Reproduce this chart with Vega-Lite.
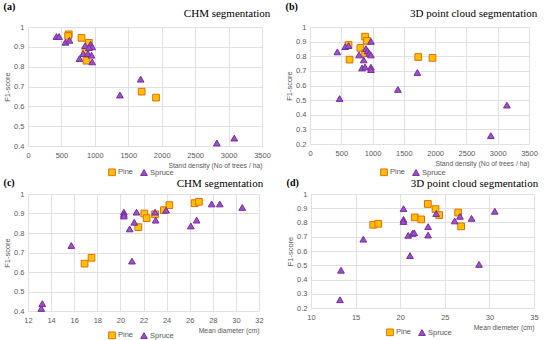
{
  "$schema": "https://vega.github.io/schema/vega-lite/v6.json",
  "background": "white",
  "padding": {"left": 3, "top": 2, "right": 2, "bottom": 0},
  "config": {
    "view": {"stroke": null},
    "font": "Liberation Sans",
    "axis": {"grid": true, "gridColor": "#d9d9d9", "gridWidth": 0.8, "domain": false, "ticks": false, "labelFontSize": 7.5, "labelColor": "#595959", "titleFontSize": 6.8, "titleFontWeight": "normal", "titleColor": "#595959"},
    "axisX": {"titleAnchor": "end", "titlePadding": 4, "labelPadding": 5, "labelFlush": false},
    "axisY": {"titlePadding": 2, "labelPadding": 4, "titleFontSize": 7.5},
    "title": {"font": "Liberation Serif", "fontWeight": "normal", "fontSize": 11, "color": "#000000"},
    "legend": {"orient": "none", "direction": "horizontal", "labelFontSize": 7.5, "labelColor": "#595959", "symbolSize": 45, "columnPadding": 4, "labelOffset": 2, "symbolStrokeWidth": 1, "padding": 0}
  },
  "datasets": {
    "a": [
      {"sp": "Pine", "x": 610, "f1": 0.963}, {"sp": "Pine", "x": 600, "f1": 0.955}, {"sp": "Pine", "x": 800, "f1": 0.945}, {"sp": "Pine", "x": 910, "f1": 0.92}, {"sp": "Pine", "x": 860, "f1": 0.88}, {"sp": "Pine", "x": 875, "f1": 0.83}, {"sp": "Pine", "x": 1700, "f1": 0.674}, {"sp": "Pine", "x": 1915, "f1": 0.644},
      {"sp": "Spruce", "x": 425, "f1": 0.952}, {"sp": "Spruce", "x": 465, "f1": 0.952}, {"sp": "Spruce", "x": 560, "f1": 0.923}, {"sp": "Spruce", "x": 620, "f1": 0.933}, {"sp": "Spruce", "x": 770, "f1": 0.841}, {"sp": "Spruce", "x": 825, "f1": 0.866}, {"sp": "Spruce", "x": 855, "f1": 0.906}, {"sp": "Spruce", "x": 895, "f1": 0.866}, {"sp": "Spruce", "x": 935, "f1": 0.913}, {"sp": "Spruce", "x": 960, "f1": 0.9}, {"sp": "Spruce", "x": 950, "f1": 0.858}, {"sp": "Spruce", "x": 960, "f1": 0.824}, {"sp": "Spruce", "x": 910, "f1": 0.896}, {"sp": "Spruce", "x": 1375, "f1": 0.657}, {"sp": "Spruce", "x": 1685, "f1": 0.737}, {"sp": "Spruce", "x": 2825, "f1": 0.415}, {"sp": "Spruce", "x": 3085, "f1": 0.44}
    ],
    "b": [
      {"sp": "Pine", "x": 880, "f1": 0.934}, {"sp": "Pine", "x": 910, "f1": 0.905}, {"sp": "Pine", "x": 805, "f1": 0.857}, {"sp": "Pine", "x": 616, "f1": 0.877}, {"sp": "Pine", "x": 880, "f1": 0.82}, {"sp": "Pine", "x": 632, "f1": 0.777}, {"sp": "Pine", "x": 1730, "f1": 0.795}, {"sp": "Pine", "x": 1958, "f1": 0.789},
      {"sp": "Spruce", "x": 437, "f1": 0.83}, {"sp": "Spruce", "x": 474, "f1": 0.511}, {"sp": "Spruce", "x": 563, "f1": 0.866}, {"sp": "Spruce", "x": 616, "f1": 0.873}, {"sp": "Spruce", "x": 784, "f1": 0.809}, {"sp": "Spruce", "x": 832, "f1": 0.72}, {"sp": "Spruce", "x": 858, "f1": 0.775}, {"sp": "Spruce", "x": 879, "f1": 0.727}, {"sp": "Spruce", "x": 895, "f1": 0.852}, {"sp": "Spruce", "x": 921, "f1": 0.836}, {"sp": "Spruce", "x": 947, "f1": 0.82}, {"sp": "Spruce", "x": 974, "f1": 0.902}, {"sp": "Spruce", "x": 974, "f1": 0.809}, {"sp": "Spruce", "x": 974, "f1": 0.725}, {"sp": "Spruce", "x": 974, "f1": 0.709}, {"sp": "Spruce", "x": 1405, "f1": 0.573}, {"sp": "Spruce", "x": 1716, "f1": 0.689}, {"sp": "Spruce", "x": 2890, "f1": 0.257}, {"sp": "Spruce", "x": 3147, "f1": 0.466}
    ],
    "c": [
      {"sp": "Pine", "x": 16.9, "f1": 0.643}, {"sp": "Pine", "x": 17.5, "f1": 0.673}, {"sp": "Pine", "x": 21.55, "f1": 0.83}, {"sp": "Pine", "x": 22.07, "f1": 0.9}, {"sp": "Pine", "x": 22.27, "f1": 0.876}, {"sp": "Pine", "x": 23.0, "f1": 0.896}, {"sp": "Pine", "x": 23.77, "f1": 0.917}, {"sp": "Pine", "x": 24.24, "f1": 0.943}, {"sp": "Pine", "x": 26.43, "f1": 0.953}, {"sp": "Pine", "x": 26.8, "f1": 0.96},
      {"sp": "Spruce", "x": 13.15, "f1": 0.413}, {"sp": "Spruce", "x": 13.24, "f1": 0.438}, {"sp": "Spruce", "x": 15.75, "f1": 0.736}, {"sp": "Spruce", "x": 20.3, "f1": 0.907}, {"sp": "Spruce", "x": 20.3, "f1": 0.896}, {"sp": "Spruce", "x": 20.3, "f1": 0.887}, {"sp": "Spruce", "x": 20.8, "f1": 0.821}, {"sp": "Spruce", "x": 21.0, "f1": 0.656}, {"sp": "Spruce", "x": 21.2, "f1": 0.855}, {"sp": "Spruce", "x": 21.4, "f1": 0.907}, {"sp": "Spruce", "x": 23.0, "f1": 0.907}, {"sp": "Spruce", "x": 23.05, "f1": 0.866}, {"sp": "Spruce", "x": 23.95, "f1": 0.917}, {"sp": "Spruce", "x": 26.1, "f1": 0.836}, {"sp": "Spruce", "x": 26.6, "f1": 0.866}, {"sp": "Spruce", "x": 27.9, "f1": 0.949}, {"sp": "Spruce", "x": 28.6, "f1": 0.949}, {"sp": "Spruce", "x": 30.55, "f1": 0.931}
    ],
    "d": [
      {"sp": "Pine", "x": 16.98, "f1": 0.784}, {"sp": "Pine", "x": 17.54, "f1": 0.791}, {"sp": "Pine", "x": 21.64, "f1": 0.836}, {"sp": "Pine", "x": 22.35, "f1": 0.822}, {"sp": "Pine", "x": 23.1, "f1": 0.93}, {"sp": "Pine", "x": 23.96, "f1": 0.894}, {"sp": "Pine", "x": 24.37, "f1": 0.852}, {"sp": "Pine", "x": 26.5, "f1": 0.87}, {"sp": "Pine", "x": 26.83, "f1": 0.773},
      {"sp": "Spruce", "x": 13.25, "f1": 0.258}, {"sp": "Spruce", "x": 13.36, "f1": 0.465}, {"sp": "Spruce", "x": 15.86, "f1": 0.683}, {"sp": "Spruce", "x": 20.37, "f1": 0.897}, {"sp": "Spruce", "x": 20.37, "f1": 0.822}, {"sp": "Spruce", "x": 20.37, "f1": 0.807}, {"sp": "Spruce", "x": 20.9, "f1": 0.71}, {"sp": "Spruce", "x": 21.1, "f1": 0.568}, {"sp": "Spruce", "x": 21.38, "f1": 0.724}, {"sp": "Spruce", "x": 21.57, "f1": 0.728}, {"sp": "Spruce", "x": 23.13, "f1": 0.771}, {"sp": "Spruce", "x": 23.13, "f1": 0.712}, {"sp": "Spruce", "x": 24.03, "f1": 0.863}, {"sp": "Spruce", "x": 26.1, "f1": 0.811}, {"sp": "Spruce", "x": 26.7, "f1": 0.843}, {"sp": "Spruce", "x": 28.0, "f1": 0.829}, {"sp": "Spruce", "x": 28.84, "f1": 0.506}, {"sp": "Spruce", "x": 30.6, "f1": 0.879}
    ]
  },
  "spacing": 0,
  "resolve": {"scale": {"color": "independent", "shape": "independent", "stroke": "independent"}, "legend": {"color": "independent", "shape": "independent", "stroke": "independent"}},
  "vconcat": [
    {
      "spacing": 14,
      "resolve": {"scale": {"color": "independent", "shape": "independent", "stroke": "independent"}, "legend": {"color": "independent", "shape": "independent", "stroke": "independent"}},
      "hconcat": [
        {
          "title": {"text": "(a)", "anchor": "start", "fontWeight": "bold", "fontSize": 10, "offset": -4},
          "resolve": {"scale": {"color": "independent", "shape": "independent", "stroke": "independent"}, "legend": {"color": "independent", "shape": "independent", "stroke": "independent"}},
          "vconcat": [
            {
              "width": 234, "height": 119,
              "title": {"text": "CHM segmentation", "anchor": "end", "offset": 4},
              "data": {"name": "a"},
              "mark": {"type": "point", "filled": true, "opacity": 1, "strokeWidth": 1},
              "encoding": {
                "x": {"field": "x", "type": "quantitative", "scale": {"domain": [0, 3500], "nice": false}, "axis": {"values": [0, 500, 1000, 1500, 2000, 2500, 3000, 3500], "format": "d", "title": "Stand density (No of trees / ha)"}},
                "y": {"field": "f1", "type": "quantitative", "scale": {"domain": [0.4, 1], "nice": false, "zero": false}, "axis": {"values": [0.4, 0.5, 0.6, 0.7, 0.8, 0.9, 1], "format": ".1~f", "title": "F1-score"}},
                "color": {"field": "sp", "type": "nominal", "scale": {"domain": ["Pine", "Spruce"], "range": ["#FFC000", "#A54CC8"]}, "legend": {"title": null, "legendX": 80, "legendY": 141}},
                "stroke": {"field": "sp", "type": "nominal", "scale": {"domain": ["Pine", "Spruce"], "range": ["#E46C0A", "#7030A0"]}, "legend": {"title": null, "legendX": 80, "legendY": 141}},
                "shape": {"field": "sp", "type": "nominal", "scale": {"domain": ["Pine", "Spruce"], "range": ["square", "triangle-up"]}, "legend": {"title": null, "legendX": 80, "legendY": 141}},
                "size": {"value": 45}
              }
            }
          ]
        },
        {
          "title": {"text": "(b)", "anchor": "start", "fontWeight": "bold", "fontSize": 10, "offset": -4},
          "resolve": {"scale": {"color": "independent", "shape": "independent", "stroke": "independent"}, "legend": {"color": "independent", "shape": "independent", "stroke": "independent"}},
          "vconcat": [
            {
              "width": 219, "height": 117,
              "title": {"text": "3D point cloud segmentation", "anchor": "end", "offset": 4},
              "data": {"name": "b"},
              "mark": {"type": "point", "filled": true, "opacity": 1, "strokeWidth": 1},
              "encoding": {
                "x": {"field": "x", "type": "quantitative", "scale": {"domain": [0, 3500], "nice": false}, "axis": {"values": [0, 500, 1000, 1500, 2000, 2500, 3000, 3500], "format": "d", "title": "Stand density (No of trees / ha)"}},
                "y": {"field": "f1", "type": "quantitative", "scale": {"domain": [0.2, 1], "nice": false, "zero": false}, "axis": {"values": [0.2, 0.3, 0.4, 0.5, 0.6, 0.7, 0.8, 0.9, 1], "format": ".1~f", "title": "F1-score"}},
                "color": {"field": "sp", "type": "nominal", "scale": {"domain": ["Pine", "Spruce"], "range": ["#FFC000", "#A54CC8"]}, "legend": {"title": null, "legendX": 70, "legendY": 141}},
                "stroke": {"field": "sp", "type": "nominal", "scale": {"domain": ["Pine", "Spruce"], "range": ["#E46C0A", "#7030A0"]}, "legend": {"title": null, "legendX": 70, "legendY": 141}},
                "shape": {"field": "sp", "type": "nominal", "scale": {"domain": ["Pine", "Spruce"], "range": ["square", "triangle-up"]}, "legend": {"title": null, "legendX": 70, "legendY": 141}},
                "size": {"value": 45}
              }
            }
          ]
        }
      ]
    },
    {
      "spacing": 22,
      "resolve": {"scale": {"color": "independent", "shape": "independent", "stroke": "independent"}, "legend": {"color": "independent", "shape": "independent", "stroke": "independent"}},
      "hconcat": [
        {
          "title": {"text": "(c)", "anchor": "start", "fontWeight": "bold", "fontSize": 10, "offset": -10},
          "resolve": {"scale": {"color": "independent", "shape": "independent", "stroke": "independent"}, "legend": {"color": "independent", "shape": "independent", "stroke": "independent"}},
          "vconcat": [
            {
              "width": 231, "height": 117,
              "title": {"text": "CHM segmentation", "anchor": "end", "offset": 1},
              "data": {"name": "c"},
              "mark": {"type": "point", "filled": true, "opacity": 1, "strokeWidth": 1},
              "encoding": {
                "x": {"field": "x", "type": "quantitative", "scale": {"domain": [12, 32], "nice": false, "zero": false}, "axis": {"values": [12, 14, 16, 18, 20, 22, 24, 26, 28, 30, 32], "title": "Mean diameter (cm)"}},
                "y": {"field": "f1", "type": "quantitative", "scale": {"domain": [0.4, 1], "nice": false, "zero": false}, "axis": {"values": [0.4, 0.5, 0.6, 0.7, 0.8, 0.9, 1], "format": ".1~f", "title": "F1-score"}},
                "color": {"field": "sp", "type": "nominal", "scale": {"domain": ["Pine", "Spruce"], "range": ["#FFC000", "#A54CC8"]}, "legend": {"title": null, "legendX": 80, "legendY": 137}},
                "stroke": {"field": "sp", "type": "nominal", "scale": {"domain": ["Pine", "Spruce"], "range": ["#E46C0A", "#7030A0"]}, "legend": {"title": null, "legendX": 80, "legendY": 137}},
                "shape": {"field": "sp", "type": "nominal", "scale": {"domain": ["Pine", "Spruce"], "range": ["square", "triangle-up"]}, "legend": {"title": null, "legendX": 80, "legendY": 137}},
                "size": {"value": 45}
              }
            }
          ]
        },
        {
          "title": {"text": "(d)", "anchor": "start", "fontWeight": "bold", "fontSize": 10, "offset": -10},
          "resolve": {"scale": {"color": "independent", "shape": "independent", "stroke": "independent"}, "legend": {"color": "independent", "shape": "independent", "stroke": "independent"}},
          "vconcat": [
            {
              "width": 223, "height": 114,
              "title": {"text": "3D point cloud segmentation", "anchor": "end", "offset": 1},
              "data": {"name": "d"},
              "mark": {"type": "point", "filled": true, "opacity": 1, "strokeWidth": 1},
              "encoding": {
                "x": {"field": "x", "type": "quantitative", "scale": {"domain": [10, 35], "nice": false, "zero": false}, "axis": {"values": [10, 15, 20, 25, 30, 35], "title": "Mean diemeter (cm)"}},
                "y": {"field": "f1", "type": "quantitative", "scale": {"domain": [0.2, 1], "nice": false, "zero": false}, "axis": {"values": [0.2, 0.3, 0.4, 0.5, 0.6, 0.7, 0.8, 0.9, 1], "format": ".1~f", "title": "F1-score"}},
                "color": {"field": "sp", "type": "nominal", "scale": {"domain": ["Pine", "Spruce"], "range": ["#FFC000", "#A54CC8"]}, "legend": {"title": null, "legendX": 75, "legendY": 134}},
                "stroke": {"field": "sp", "type": "nominal", "scale": {"domain": ["Pine", "Spruce"], "range": ["#E46C0A", "#7030A0"]}, "legend": {"title": null, "legendX": 75, "legendY": 134}},
                "shape": {"field": "sp", "type": "nominal", "scale": {"domain": ["Pine", "Spruce"], "range": ["square", "triangle-up"]}, "legend": {"title": null, "legendX": 75, "legendY": 134}},
                "size": {"value": 45}
              }
            }
          ]
        }
      ]
    }
  ]
}
